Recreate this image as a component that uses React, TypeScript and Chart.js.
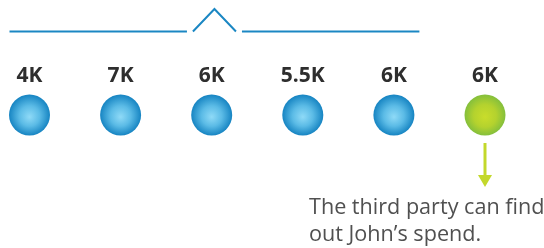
import React, { useEffect, useRef } from "react";
import { Chart, registerables } from "chart.js";

Chart.register(...registerables);

const categories = ["A", "B", "C", "D", "E", "F"];
const spendValues = [4, 7, 6, 5.5, 6, 6];
const valueLabels = ["4K", "7K", "6K", "5.5K", "6K", "6K"];
const highlighted = [false, false, false, false, false, true];
const bracketCount = 5;
const noteLines = ["The third party can find", "out John\u2019s spend."];

const BLUE_LINE = "#1b87c3";
const LIME = "#c3d82b";

function makeGradient(ctx: CanvasRenderingContext2D, x: number, y: number, r: number, hi: boolean) {
  const g = ctx.createRadialGradient(x, y + 2, 0, x, y, r);
  if (hi) {
    g.addColorStop(0, "#c9dd2b");
    g.addColorStop(0.55, "#b4d22e");
    g.addColorStop(1, "#84bf3c");
  } else {
    g.addColorStop(0, "#8fdaf7");
    g.addColorStop(0.5, "#5bbbe6");
    g.addColorStop(1, "#1684c2");
  }
  return g;
}

const decorPlugin = {
  id: "decor",
  afterDatasetsDraw(chart: any) {
    const ctx: CanvasRenderingContext2D = chart.ctx;
    const meta = chart.getDatasetMeta(0);
    const pts = meta.data;
    ctx.save();
    // value labels
    ctx.fillStyle = "#2e2e2e";
    ctx.font = "bold 21px 'Open Sans'";
    ctx.textAlign = "center";
    ctx.textBaseline = "alphabetic";
    pts.forEach((p: any, i: number) => {
      ctx.fillText(valueLabels[i], p.x, p.y - 33);
    });
    // bracket with caret
    const x0 = pts[0].x - 20;
    const x1 = pts[bracketCount - 1].x + 25.5;
    const mid = (x0 + x1) / 2;
    const ly = pts[0].y - 83.5;
    ctx.strokeStyle = BLUE_LINE;
    ctx.lineWidth = 2;
    ctx.lineCap = "butt";
    ctx.lineJoin = "miter";
    ctx.beginPath();
    ctx.moveTo(x0, ly);
    ctx.lineTo(mid - 27.5, ly);
    ctx.moveTo(mid - 21.5, ly);
    ctx.lineTo(mid, ly - 22.5);
    ctx.lineTo(mid + 21.5, ly);
    ctx.moveTo(mid + 27.5, ly);
    ctx.lineTo(x1, ly);
    ctx.stroke();
    // arrow under highlighted point
    const hiIndex = highlighted.indexOf(true);
    const hp = pts[hiIndex];
    ctx.strokeStyle = LIME;
    ctx.fillStyle = LIME;
    ctx.lineWidth = 3;
    ctx.beginPath();
    ctx.moveTo(hp.x, hp.y + 28);
    ctx.lineTo(hp.x, hp.y + 61);
    ctx.stroke();
    ctx.beginPath();
    ctx.moveTo(hp.x - 7, hp.y + 60);
    ctx.lineTo(hp.x + 7, hp.y + 60);
    ctx.lineTo(hp.x, hp.y + 72);
    ctx.closePath();
    ctx.fill();
    // note text
    ctx.fillStyle = "#505050";
    ctx.font = "21.6px 'Open Sans'";
    ctx.textAlign = "left";
    noteLines.forEach((t, i) => {
      ctx.fillText(t, 309, hp.y + 99 + i * 26.5);
    });
    ctx.restore();
  },
};

export default function App() {
  const ref = useRef<HTMLCanvasElement | null>(null);
  useEffect(() => {
    const canvas = ref.current!;
    const chart = new Chart(canvas, {
      type: "line",
      data: {
        labels: categories,
        datasets: [
          {
            data: spendValues.map(() => 0),
            showLine: false,
            pointRadius: 20.5,
            pointHoverRadius: 20.5,
            pointBorderWidth: 0,
            pointBorderColor: "rgba(0,0,0,0)",
            clip: false as any,
            pointBackgroundColor: (c: any) => {
              const ch = c.chart;
              const xs = ch.scales.x;
              const ys = ch.scales.y;
              if (!xs || !ys || c.dataIndex === undefined) return "#5bbbe6";
              const x = xs.getPixelForValue(c.dataIndex);
              const y = ys.getPixelForValue(0);
              if (!isFinite(x) || !isFinite(y)) return "#5bbbe6";
              return makeGradient(ch.ctx, x, y, 20.5, highlighted[c.dataIndex]);
            },
          },
        ],
      },
      options: {
        animation: false,
        responsive: false,
        events: [],
        layout: { padding: { left: 29.5, right: 59, top: 95, bottom: 113 } },
        scales: {
          x: { display: false, offset: false },
          y: { display: false, min: -1, max: 1 },
        },
        plugins: { legend: { display: false }, tooltip: { enabled: false } },
      },
      plugins: [decorPlugin],
    });
    return () => chart.destroy();
  }, []);
  return (
    <div style={{ position: "fixed", left: 0, top: 0, width: 544, height: 248, background: "#fff" }}>
      <canvas ref={ref} width={544} height={248} style={{ width: 544, height: 248 }} />
    </div>
  );
}
